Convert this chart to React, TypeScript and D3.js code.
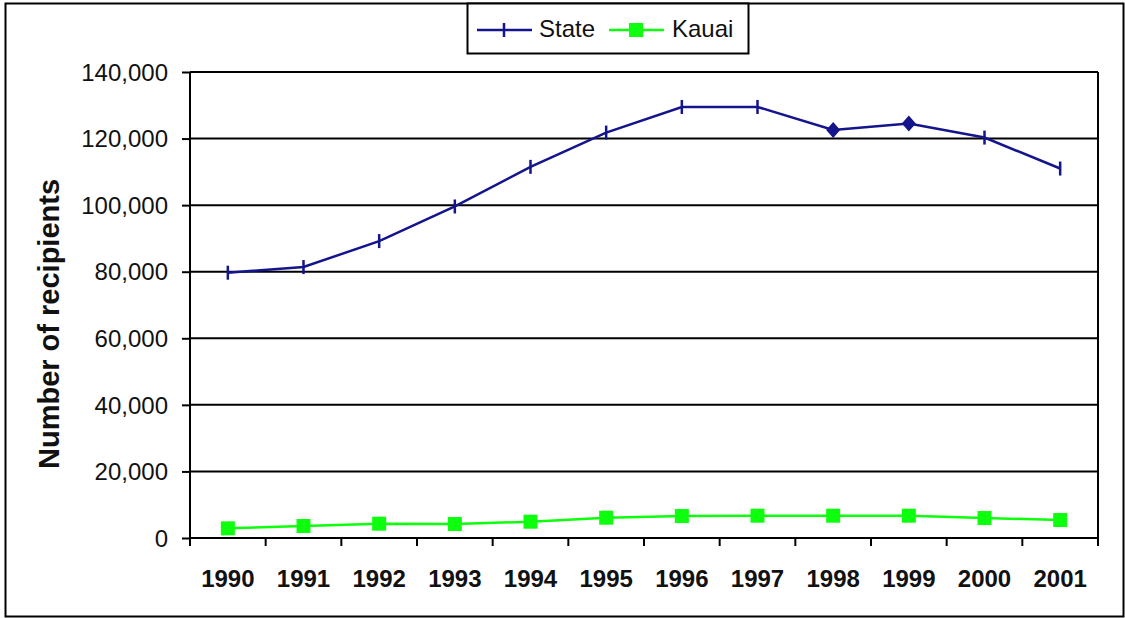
import React, { useEffect, useRef } from 'react';
import * as d3 from 'd3';

const years = ['1990', '1991', '1992', '1993', '1994', '1995', '1996', '1997', '1998', '1999', '2000', '2001'];
const stateValues = [79700, 81400, 89200, 99600, 111500, 121800, 129500, 129500, 122600, 124500, 120300, 111000];
const kauaiValues = [2900, 3600, 4300, 4200, 4900, 6100, 6600, 6700, 6700, 6700, 6000, 5400];
// 1998 and 1999 are drawn with a diamond in the original
const stateDiamond = [false, false, false, false, false, false, false, false, true, true, false, false];
const yTicks = [0, 20000, 40000, 60000, 80000, 100000, 120000, 140000];

const STATE_COLOR = '#14148c';
const KAUAI_COLOR = '#0dff0d';
const FONT = 'Liberation Sans, Arial, sans-serif';

export default function App() {
  const svgRef = useRef<SVGSVGElement>(null);

  useEffect(() => {
    if (!svgRef.current) return;
    const svg = d3.select(svgRef.current);
    svg.selectAll('*').remove();

    const width = 1125;
    const height = 618;
    const margin = { top: 72, right: 27, bottom: 80, left: 190 };

    // outer frame
    svg.append('rect')
      .attr('x', 5.5).attr('y', 3.5)
      .attr('width', 1118).attr('height', 613)
      .attr('fill', '#fff').attr('stroke', '#000').attr('stroke-width', 2);

    const x = d3.scaleBand()
      .domain(years)
      .range([margin.left, width - margin.right]);

    const y = d3.scaleLinear()
      .domain([0, 140000])
      .range([height - margin.bottom, margin.top]);

    // grid lines
    svg.append('g')
      .selectAll('line')
      .data(yTicks)
      .join('line')
      .attr('x1', margin.left)
      .attr('x2', width - margin.right)
      .attr('y1', d => y(d))
      .attr('y2', d => y(d))
      .attr('stroke', '#000')
      .attr('stroke-width', 2);

    // right border of plot
    svg.append('line')
      .attr('x1', width - margin.right).attr('x2', width - margin.right)
      .attr('y1', y(140000)).attr('y2', y(0))
      .attr('stroke', '#000').attr('stroke-width', 2);

    // Y axis
    svg.append('g')
      .attr('transform', `translate(${margin.left},0)`)
      .call(d3.axisLeft(y).tickValues(yTicks).tickSize(8).tickPadding(14).tickFormat(d => d3.format(',')(d as number)))
      .call(g => g.select('.domain').attr('stroke-width', 2).attr('d', `M0,${y(140000)}V${y(0)}`))
      .call(g => g.selectAll('.tick line').attr('stroke-width', 2))
      .selectAll('text')
      .attr('font-family', FONT)
      .attr('font-size', '24px')
      .attr('dy', '0.34em')
      .attr('fill', '#111');

    // X axis
    const xAxis = svg.append('g')
      .attr('transform', `translate(0,${y(0)})`);
    xAxis.append('line')
      .attr('x1', margin.left).attr('x2', width - margin.right)
      .attr('stroke', '#000').attr('stroke-width', 2);
    const bounds = [...years.map(d => x(d) as number), width - margin.right];
    xAxis.selectAll('.xt')
      .data(bounds)
      .join('line')
      .attr('class', 'xt')
      .attr('x1', d => d).attr('x2', d => d)
      .attr('y1', 0).attr('y2', 8)
      .attr('stroke', '#000').attr('stroke-width', 2);
    xAxis.selectAll('text')
      .data(years)
      .join('text')
      .attr('x', d => (x(d) as number) + x.bandwidth() / 2)
      .attr('y', 49)
      .attr('text-anchor', 'middle')
      .attr('font-family', FONT)
      .attr('font-size', '24px')
      .attr('font-weight', 'bold')
      .attr('fill', '#111')
      .text(d => d);

    // Y axis title
    svg.append('text')
      .attr('transform', `translate(59,324) rotate(-90)`)
      .attr('text-anchor', 'middle')
      .attr('font-family', FONT)
      .attr('font-size', '29px')
      .attr('font-weight', 'bold')
      .attr('fill', '#111')
      .text('Number of recipients');

    const cx = (d: string) => (x(d) as number) + x.bandwidth() / 2;

    const line = d3.line<number>()
      .x((d, i) => cx(years[i]))
      .y(d => y(d));

    // Kauai
    svg.append('path')
      .datum(kauaiValues)
      .attr('fill', 'none')
      .attr('stroke', KAUAI_COLOR)
      .attr('stroke-width', 2.5)
      .attr('d', line);
    svg.selectAll('.kauai')
      .data(kauaiValues)
      .join('rect')
      .attr('class', 'kauai')
      .attr('x', (d, i) => cx(years[i]) - 7)
      .attr('y', d => y(d) - 7)
      .attr('width', 14).attr('height', 14)
      .attr('fill', KAUAI_COLOR);

    // State
    svg.append('path')
      .datum(stateValues)
      .attr('fill', 'none')
      .attr('stroke', STATE_COLOR)
      .attr('stroke-width', 2.5)
      .attr('d', line);
    const statePts = stateValues.map((v, i) => ({ v, i }));
    svg.selectAll('.state-tick')
      .data(statePts.filter(p => !stateDiamond[p.i]))
      .join('line')
      .attr('class', 'state-tick')
      .attr('x1', p => cx(years[p.i])).attr('x2', p => cx(years[p.i]))
      .attr('y1', p => y(p.v) - 7).attr('y2', p => y(p.v) + 7)
      .attr('stroke', STATE_COLOR).attr('stroke-width', 2.5);
    svg.selectAll('.state-dia')
      .data(statePts.filter(p => stateDiamond[p.i]))
      .join('path')
      .attr('class', 'state-dia')
      .attr('d', p => {
        const px = cx(years[p.i]);
        const py = y(p.v);
        return `M${px},${py - 8}L${px + 7},${py}L${px},${py + 8}L${px - 7},${py}Z`;
      })
      .attr('fill', STATE_COLOR);

    // Legend
    const lg = svg.append('g');
    lg.append('rect')
      .attr('x', 467.5).attr('y', 3.5)
      .attr('width', 281).attr('height', 50)
      .attr('fill', '#fff').attr('stroke', '#000').attr('stroke-width', 2);
    lg.append('line')
      .attr('x1', 477).attr('x2', 532).attr('y1', 30).attr('y2', 30)
      .attr('stroke', STATE_COLOR).attr('stroke-width', 2.5);
    lg.append('line')
      .attr('x1', 504).attr('x2', 504).attr('y1', 23).attr('y2', 37)
      .attr('stroke', STATE_COLOR).attr('stroke-width', 2.5);
    lg.append('text')
      .attr('x', 539).attr('y', 37)
      .attr('font-family', FONT).attr('font-size', '24px').attr('fill', '#111')
      .text('State');
    lg.append('line')
      .attr('x1', 609).attr('x2', 664).attr('y1', 30).attr('y2', 30)
      .attr('stroke', KAUAI_COLOR).attr('stroke-width', 2.5);
    lg.append('rect')
      .attr('x', 629).attr('y', 23).attr('width', 14).attr('height', 14)
      .attr('fill', KAUAI_COLOR);
    lg.append('text')
      .attr('x', 672).attr('y', 37)
      .attr('font-family', FONT).attr('font-size', '24px').attr('fill', '#111')
      .text('Kauai');
  }, []);

  return (
    <svg
      ref={svgRef}
      width={1125}
      height={618}
      viewBox="0 0 1125 618"
      style={{ position: 'absolute', left: 0, top: 0, display: 'block' }}
    />
  );
}
